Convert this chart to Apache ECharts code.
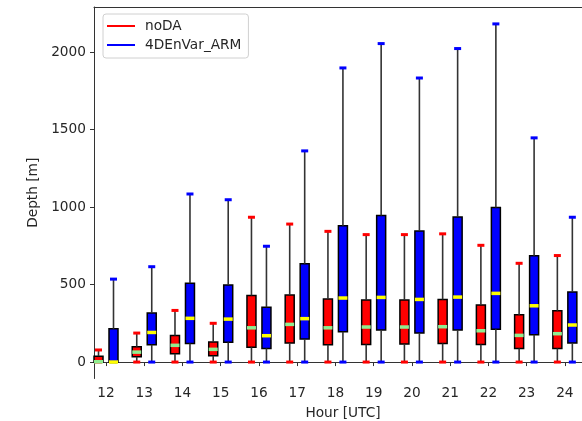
<!DOCTYPE html>
<html>
<head>
<meta charset="utf-8">
<script src="https://cdn.jsdelivr.net/npm/echarts@6/dist/echarts.min.js"></script>
<style>
  html, body { margin: 0; padding: 0; background: #fff; }
  #chart { width: 582px; height: 421px; }
</style>
</head>
<body>
<div id="chart"></div>
<script>
// Boundary-layer depth statistics per forecast hour (box = quartiles, whiskers = min/max)
const hours = [12, 13, 14, 15, 16, 17, 18, 19, 20, 21, 22, 23, 24];

const noDAMin    = [0, 0, 0, 0, 0, 0, 0, 0, 0, 0, 0, 0, 0];
const noDAQ1     = [0, 34, 54, 41, 95, 123, 112, 114, 116, 120, 114, 88, 88];
const noDAMedian = [2, 64, 108, 82, 221, 243, 221, 226, 226, 228, 202, 172, 183];
const noDAQ3     = [38, 99, 172, 129, 430, 432, 406, 400, 400, 404, 368, 305, 331];
const noDAMax    = [78, 187, 333, 250, 934, 890, 843, 822, 822, 827, 753, 637, 687];

const armMin    = [0, 0, 0, 0, 0, 0, 0, 0, 0, 0, 0, 0, 0];
const armQ1     = [0, 112, 120, 127, 88, 148, 196, 206, 187, 206, 211, 176, 123];
const armMedian = [0, 191, 282, 277, 170, 280, 413, 417, 404, 419, 443, 363, 239];
const armQ3     = [215, 316, 508, 497, 353, 634, 879, 945, 846, 935, 997, 685, 452];
const armMax    = [535, 615, 1084, 1047, 747, 1362, 1897, 2054, 1832, 2022, 2181, 1446, 934];

const yTicks = [0, 500, 1000, 1500, 2000];
const offset = 0.196; // side-by-side shift of the two boxes around each hour

function buildRows(shift, mn, q1, med, q3, mx) {
  return hours.map((h, i) => [h + shift, mn[i], q1[i], med[i], q3[i], mx[i]]);
}

function boxRenderer(fill, medianColor) {
  return function (params, api) {
    const x = api.value(0);
    const cx = api.coord([x, 0])[0];
    const y = (k) => api.coord([x, api.value(k)])[1];
    const yMin = y(1), yQ1 = y(2), yMed = y(3), yQ3 = y(4), yMax = y(5);
    const hw = 4.5, cw = 3.5;
    return {
      type: 'group',
      children: [
        { type: 'rect', shape: { x: cx - hw, y: yQ3, width: hw * 2, height: yQ1 - yQ3 },
          style: { fill: fill, stroke: '#000', lineWidth: 1.5 } },
        { type: 'line', shape: { x1: cx, y1: yQ1, x2: cx, y2: yMin },
          style: { stroke: '#333', lineWidth: 1.6 } },
        { type: 'line', shape: { x1: cx, y1: yQ3, x2: cx, y2: yMax },
          style: { stroke: '#333', lineWidth: 1.6 } },
        { type: 'line', shape: { x1: cx - cw, y1: yMin, x2: cx + cw, y2: yMin },
          style: { stroke: fill, lineWidth: 3 } },
        { type: 'line', shape: { x1: cx - cw, y1: yMax, x2: cx + cw, y2: yMax },
          style: { stroke: fill, lineWidth: 3 } },
        { type: 'line', shape: { x1: cx - hw, y1: yMed, x2: cx + hw, y2: yMed },
          style: { stroke: medianColor, lineWidth: 3.5 } }
      ]
    };
  };
}

const font = 'DejaVu Sans';
const textColor = '#262626';
const axisColor = '#333';

const chart = echarts.init(document.getElementById('chart'), null, { renderer: 'canvas' });
chart.setOption({
  animation: false,
  backgroundColor: '#fff',
  grid: { left: 94, top: 7, right: -10, bottom: 42.5, outerBoundsMode: 'none', containLabel: false },
  legend: {
    left: 103, top: 14,
    orient: 'vertical',
    data: ['noDA', '4DEnVar_ARM'],
    icon: 'rect',
    itemWidth: 28, itemHeight: 2,
    itemGap: 3,
    padding: [4, 7, 5, 4],
    borderColor: '#d0d0d0', borderWidth: 1, borderRadius: 3,
    backgroundColor: 'rgba(255,255,255,0.8)',
    textStyle: { fontFamily: font, fontSize: 13.7, color: textColor, lineHeight: 16, padding: [0, 0, 0, 5] }
  },
  xAxis: [
    {
      type: 'value', min: 11.686, max: 24.71,
      name: 'Hour [UTC]', nameLocation: 'middle', nameGap: 28,
      nameTextStyle: { fontFamily: font, fontSize: 13.7, color: textColor },
      axisLine: { show: true, lineStyle: { color: axisColor, width: 1 } },
      axisTick: { show: true, length: 4, customValues: hours, lineStyle: { color: axisColor } },
      axisLabel: { customValues: hours, margin: 8, fontFamily: font, fontSize: 13.7, color: textColor,
                   formatter: (v) => String(v) },
      splitLine: { show: false }
    },
    {
      type: 'value', position: 'top', min: 11.686, max: 24.71,
      axisLine: { show: true, lineStyle: { color: axisColor, width: 1 } },
      axisTick: { show: false }, axisLabel: { show: false }, splitLine: { show: false }
    }
  ],
  yAxis: {
    type: 'value', min: -106, max: 2290,
    name: 'Depth [m]', nameLocation: 'middle', nameGap: 51,
    nameTextStyle: { fontFamily: font, fontSize: 13.7, color: textColor },
    axisLine: { show: true, lineStyle: { color: axisColor, width: 1 } },
    axisTick: { show: true, length: 4, customValues: yTicks, lineStyle: { color: axisColor } },
    axisLabel: { customValues: yTicks, margin: 8, fontFamily: font, fontSize: 13.7, color: textColor,
                 formatter: (v) => String(v) },
    splitLine: { show: false }
  },
  series: [
    {
      name: 'noDA', type: 'custom', xAxisIndex: 0,
      itemStyle: { color: '#ff0000' },
      renderItem: boxRenderer('#ff0000', '#90ee90'),
      encode: { x: 0, y: [1, 2, 3, 4, 5] },
      data: buildRows(-offset, noDAMin, noDAQ1, noDAMedian, noDAQ3, noDAMax)
    },
    {
      name: '4DEnVar_ARM', type: 'custom', xAxisIndex: 0,
      itemStyle: { color: '#0000ff' },
      renderItem: boxRenderer('#0000ff', '#ffff00'),
      encode: { x: 0, y: [1, 2, 3, 4, 5] },
      data: buildRows(offset, armMin, armQ1, armMedian, armQ3, armMax)
    }
  ]
});
</script>
</body>
</html>
